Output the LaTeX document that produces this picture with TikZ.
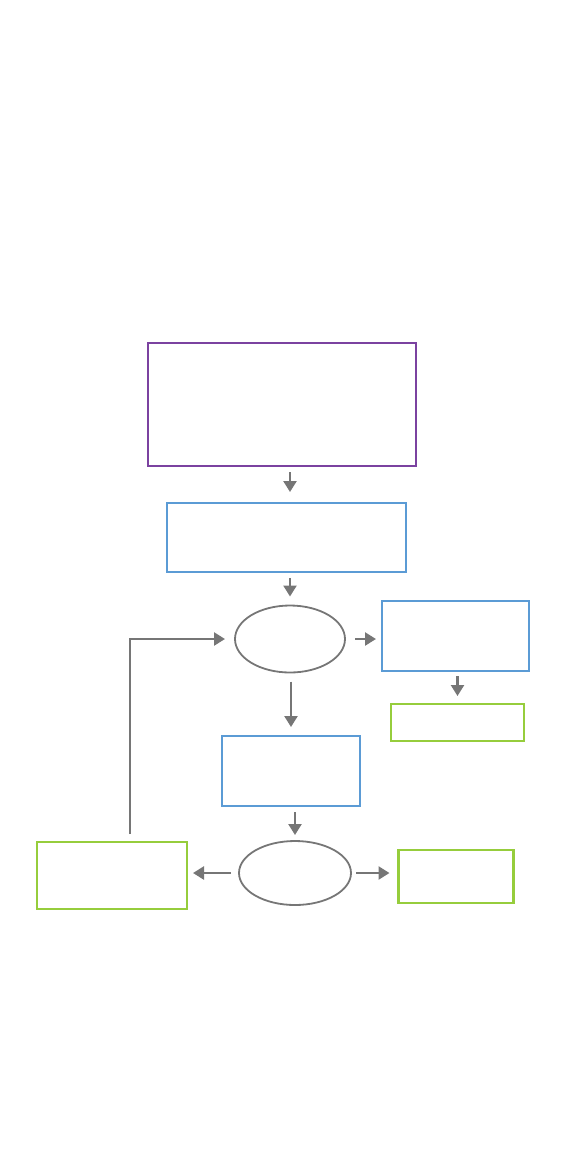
\documentclass[tikz,border=0pt]{standalone}
\usepackage{tikz}
\usetikzlibrary{arrows.meta,shapes.geometric,positioning}
\definecolor{flowpurple}{RGB}{123,66,160}
\definecolor{flowblue}{RGB}{91,155,213}
\definecolor{flowgreen}{RGB}{150,205,60}
\definecolor{flowgray}{RGB}{118,118,118}
\begin{document}
\begin{tikzpicture}[x=0.5pt, y=-0.5pt,
    box/.style={draw, line width=1.1pt, inner sep=0pt, outer sep=0pt},
    purplebox/.style={box, draw=flowpurple},
    bluebox/.style={box, draw=flowblue},
    greenbox/.style={box, draw=flowgreen},
    decision/.style={ellipse, draw=flowgray, line width=0.9pt, inner sep=0pt, outer sep=0pt},
    conn/.style={flowgray, line width=1.2pt, -{Triangle[width=6.5pt,length=5.5pt]}}]
  % cadre de la page
  \useasboundingbox (0,0) rectangle (577,1153);

  % boites et decisions
  \node[purplebox, minimum width=134pt, minimum height=61.5pt] (start) at (282,404.5) {};
  \node[bluebox, minimum width=119.5pt, minimum height=34.5pt] (prep) at (286.5,537.5) {};
  \node[decision, minimum width=55pt, minimum height=33.5pt] (testA) at (290,639) {};
  \node[bluebox, minimum width=73.5pt, minimum height=35pt] (sideA) at (455.5,636) {};
  \node[greenbox, minimum width=66.5pt, minimum height=18.5pt] (endA) at (457.5,722.5) {};
  \node[bluebox, minimum width=69pt, minimum height=35pt] (work) at (291,771) {};
  \node[decision, minimum width=56pt, minimum height=32pt] (testB) at (295,873) {};
  \node[greenbox, minimum width=75pt, minimum height=33.5pt] (retry) at (112,875.5) {};
  \node[greenbox, minimum width=57.5pt, minimum height=26.5pt] (endB) at (456,876.5) {};

  % liaisons verticales
  \draw[conn, shorten <=3pt, shorten >=5.5pt] (start.south -| testA) -- (prep.north -| testA);
  \draw[conn, shorten <=3pt, shorten >=4.5pt] (prep.south -| testA) -- (testA.north);
  \draw[conn, shorten <=4.5pt, shorten >=4.5pt] ([xshift=0.5pt]testA.south) -- ([xshift=0.5pt]work.north -| testA);
  \draw[conn, shorten <=3pt, shorten >=3pt] (work.south -| testB) -- (testB.north);
  \draw[conn, shorten <=2.5pt, shorten >=4pt] (sideA.south -| endA) -- (endA.north);

  % liaisons horizontales
  \draw[conn, shorten <=5pt, shorten >=3pt] (testA.east) -- (testA.east -| sideA.west);
  \draw[conn, shorten <=4pt, shorten >=3pt] (testB.west) -- (testB.west -| retry.east);
  \draw[conn, shorten <=2.5pt, shorten >=4.5pt] (testB.east) -- (testB.east -| endB.west);

  % boucle de retour
  \draw[conn, shorten <=4pt, shorten >=5pt] ([xshift=9pt]retry.north) |- (testA.west);
\end{tikzpicture}
\end{document}
